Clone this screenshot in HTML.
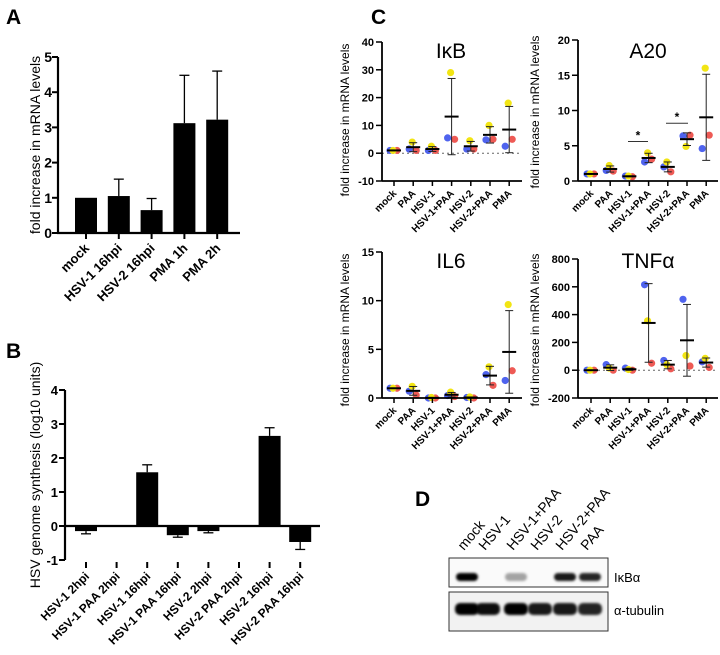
<!DOCTYPE html>
<html><head><meta charset="utf-8"><style>
body{margin:0;background:#fff}
svg{display:block;font-family:"Liberation Sans",Arial,sans-serif}
</style></head><body>
<svg id="fig" width="720" height="655" viewBox="0 0 720 655" xmlns="http://www.w3.org/2000/svg">
<defs><filter id="blur" x="-20%" y="-50%" width="140%" height="200%"><feGaussianBlur stdDeviation="1.2"/></filter></defs>
<text x="6" y="24" font-size="21" font-weight="bold">A</text>
<text x="6" y="358" font-size="21" font-weight="bold">B</text>
<text x="371" y="24" font-size="21" font-weight="bold">C</text>
<text x="415" y="506" font-size="21" font-weight="bold">D</text>
</svg>
<script>
const NS='http://www.w3.org/2000/svg';
const svg=document.getElementById('fig');
function mk(tag,attrs,parent,txt){const e=document.createElementNS(NS,tag);for(const k in attrs)e.setAttribute(k,attrs[k]);if(txt!==undefined)e.textContent=txt;(parent||svg).appendChild(e);return e;}

// ---------- Panel A data ----------
const aCats=['mock','HSV-1 16hpi','HSV-2 16hpi','PMA 1h','PMA 2h'];
const aVals=[1,1.05,0.65,3.12,3.22];
const aErr=[0,0.48,0.33,1.36,1.38];
const aTicks=[0,1,2,3,4,5];
// ---------- Panel B data ----------
const bCats=['HSV-1 2hpi','HSV-1 PAA 2hpi','HSV-1 16hpi','HSV-1 PAA 16hpi','HSV-2 2hpi','HSV-2 PAA 2hpi','HSV-2 16hpi','HSV-2 PAA 16hpi'];
const bVals=[-0.15,0,1.58,-0.27,-0.15,0,2.65,-0.47];
const bErr=[0.08,0,0.22,0.06,0.05,0,0.24,0.22];
const bTicks=[-1,0,1,2,3,4];
// ---------- Panel C data ----------
const cCats=['mock','PAA','HSV-1','HSV-1+PAA','HSV-2','HSV-2+PAA','PMA'];
const ikbYellow=[1,4,2.5,29,4.5,10,18];
const ikbBlue=[1,1.5,1,5.5,1.5,4.8,2.5];
const ikbRed=[1,1,1,5,1.5,5,5];
const ikbTicks=[-10,0,10,20,30,40];
const a20Yellow=[1,2.2,0.7,4,2.7,4.9,16];
const a20Blue=[1,1.5,0.7,2.7,2,6.4,4.6];
const a20Red=[1,1.4,0.6,3.1,1.3,6.5,6.5];
const a20Ticks=[0,5,10,15,20];
const il6Yellow=[1,1.2,0.05,0.6,0.1,3.2,9.6];
const il6Blue=[1,0.7,0,0.25,0.05,2.4,1.8];
const il6Red=[1,0.3,0,0.15,0,1.3,2.8];
const il6Ticks=[0,5,10,15];
const tnfYellow=[0,15,5,355,40,105,85];
const tnfBlue=[0,40,15,615,70,510,60];
const tnfRed=[0,0,0,50,10,30,20];
const tnfTicks=[-200,0,200,400,600,800];
// ---------- Panel D ----------
const dLanes=['mock','HSV-1','HSV-1+PAA','HSV-2','HSV-2+PAA','PAA'];
const ikbaBand=[1,0,0.35,0,0.9,0.85];
const tubBand=[1,0.95,1,0.9,0.9,0.85];

function yTitle(x,yc,txt,fs,name,bold){
  const t=mk('text',{x:x,y:yc,'font-size':fs,'text-anchor':'middle','font-weight':bold?'bold':'normal',transform:`rotate(-90 ${x} ${yc})`},svg,txt);
  
  
}
function catLabel(x,y,txt,fs,name){
  const t=mk('text',{x:x,y:y,'font-size':fs,'font-weight':'bold','text-anchor':'end',transform:`rotate(-45 ${x} ${y})`},svg,txt);
  
  
}

// ===== Panel A =====
(function(){
  const x0=58,x1=240,yTop=57,yBot=233,min=0,max=5;
  const ys=v=>yBot-(v-min)/(max-min)*(yBot-yTop);
  const cx0=86,step=32.8;
  aCats.forEach((c,i)=>{
    const x=cx0+i*step;
    const b=mk('rect',{x:x-11,y:ys(aVals[i]),width:22,height:ys(0)-ys(aVals[i]),fill:'#000'});
    
    
    if(aErr[i]>0){
      mk('line',{x1:x,x2:x,y1:ys(aVals[i]),y2:ys(aVals[i]+aErr[i]),stroke:'#000','stroke-width':1.3});
      mk('line',{x1:x-5,x2:x+5,y1:ys(aVals[i]+aErr[i]),y2:ys(aVals[i]+aErr[i]),stroke:'#000','stroke-width':1.3});
    }
    mk('line',{x1:x,x2:x,y1:yBot,y2:yBot+6,stroke:'#000','stroke-width':2});
    catLabel(x+4,yBot+16,c,13,'a-x-label');
  });
  mk('line',{x1:x0,x2:x0,y1:yTop,y2:yBot+1,stroke:'#000','stroke-width':2.2});
  mk('line',{x1:x0-1,x2:x1,y1:yBot,y2:yBot,stroke:'#000','stroke-width':2.2});
  aTicks.forEach(t=>{
    mk('line',{x1:x0-6,x2:x0,y1:ys(t),y2:ys(t),stroke:'#000','stroke-width':2});
    const l=mk('text',{x:x0-6,y:ys(t)+5,'font-size':14,'font-weight':'bold','text-anchor':'end'},svg,t);
    
    
  });
  yTitle(40,145,'fold increase in mRNA levels',14,'a-y-axis-title');
})();

// ===== Panel B =====
(function(){
  const x0=65,x1=320,yTop=390,yBot=560,min=-1,max=4;
  const ys=v=>yBot-(v-min)/(max-min)*(yBot-yTop);
  const cx0=86,step=30.6;
  bCats.forEach((c,i)=>{
    const x=cx0+i*step;
    if(bVals[i]!==0){
      const y1=Math.min(ys(bVals[i]),ys(0)),y2=Math.max(ys(bVals[i]),ys(0));
      const b=mk('rect',{x:x-11,y:y1,width:22,height:y2-y1,fill:'#000'});
      
      
      const s=bVals[i]>0?1:-1;
      const ye=ys(bVals[i]+s*bErr[i]);
      mk('line',{x1:x,x2:x,y1:ys(bVals[i]),y2:ye,stroke:'#000','stroke-width':1.3});
      mk('line',{x1:x-5,x2:x+5,y1:ye,y2:ye,stroke:'#000','stroke-width':1.3});
    }
    mk('line',{x1:x,x2:x,y1:yBot+2,y2:yBot+8,stroke:'#000','stroke-width':2});
    catLabel(x+4,yBot+17,c,12,'b-x-label');
  });
  mk('line',{x1:x0,x2:x0,y1:yTop,y2:yBot,stroke:'#000','stroke-width':2.2});
  mk('line',{x1:x0,x2:x1,y1:ys(0),y2:ys(0),stroke:'#000','stroke-width':2.2});
  bTicks.forEach(t=>{
    mk('line',{x1:x0-6,x2:x0,y1:ys(t),y2:ys(t),stroke:'#000','stroke-width':2});
    const l=mk('text',{x:x0-7,y:ys(t)+5,'font-size':13,'font-weight':'bold','text-anchor':'end'},svg,t);
    
    
  });
  yTitle(40,475,'HSV genome synthesis (log10 units)',14,'b-y-axis-title');
})();

// ===== Panel C =====
const COL={y:'#f2e513',b:'#4f63ee',r:'#ee5a55'};
function scatterPanel(o){
  const {x0,x1,yTop,yBot,min,max,ticks,title,tx,ty,Y,B,R,name,cx}=o;
  const ys=v=>yBot-(v-min)/(max-min)*(yBot-yTop);
  if(min<0) mk('line',{x1:x0,x2:x1,y1:ys(0),y2:ys(0),stroke:'#666','stroke-width':1,'stroke-dasharray':'2,3'});
  const step=19.2;
  cCats.forEach((c,i)=>{
    const x=cx+i*step;
    const vals=[Y[i],B[i],R[i]];
    const mean=(vals[0]+vals[1]+vals[2])/3;
    const sd=Math.sqrt(vals.reduce((s,v)=>s+(v-mean)*(v-mean),0)/2);
    const pts=[[B[i],'b',-4],[R[i],'r',3],[Y[i],'y',-1]];
    pts.forEach(([v,k,dx])=>{
      const p=mk('circle',{cx:x+dx,cy:ys(v),r:3.6,fill:COL[k]});
      
      
    });
    if(sd>0.0001){
      mk('line',{x1:x,x2:x,y1:ys(mean-sd),y2:ys(mean+sd),stroke:'#222','stroke-width':1});
      mk('line',{x1:x-4,x2:x+4,y1:ys(mean-sd),y2:ys(mean-sd),stroke:'#222','stroke-width':1});
      mk('line',{x1:x-4,x2:x+4,y1:ys(mean+sd),y2:ys(mean+sd),stroke:'#222','stroke-width':1});
    }
    const m=mk('line',{x1:x-7,x2:x+7,y1:ys(mean),y2:ys(mean),stroke:'#000','stroke-width':2});
    
    
    mk('line',{x1:x,x2:x,y1:yBot,y2:yBot+5,stroke:'#000','stroke-width':1.5});
    catLabel(x+3,yBot+13,c,10,name+'-x-label');
  });
  mk('line',{x1:x0,x2:x0,y1:yTop,y2:yBot,stroke:'#000','stroke-width':1.8});
  mk('line',{x1:x0,x2:x1,y1:yBot,y2:yBot,stroke:'#000','stroke-width':1.8});
  ticks.forEach(t=>{
    mk('line',{x1:x0-6,x2:x0,y1:ys(t),y2:ys(t),stroke:'#000','stroke-width':1.5});
    const l=mk('text',{x:x0-8,y:ys(t)+4,'font-size':11,'font-weight':'bold','text-anchor':'end'},svg,t);
    
    
  });
  const tt=mk('text',{x:tx,y:ty,'font-size':21,'text-anchor':'middle'},svg,title);
  
  
  return ys;
}
scatterPanel({x0:382,x1:522,yTop:42,yBot:181,min:-10,max:40,ticks:ikbTicks,title:'IκB',tx:451,ty:58,Y:ikbYellow,B:ikbBlue,R:ikbRed,name:'ikb',cx:394});
const a20ys=scatterPanel({x0:578,x1:718,yTop:40,yBot:181,min:0,max:20,ticks:a20Ticks,title:'A20',tx:648,ty:58,Y:a20Yellow,B:a20Blue,R:a20Red,name:'a20',cx:591});
scatterPanel({x0:382,x1:522,yTop:252,yBot:398,min:0,max:15,ticks:il6Ticks,title:'IL6',tx:451,ty:268,Y:il6Yellow,B:il6Blue,R:il6Red,name:'il6',cx:394});
scatterPanel({x0:578,x1:718,yTop:259,yBot:398,min:-200,max:800,ticks:tnfTicks,title:'TNFα',tx:648,ty:268,Y:tnfYellow,B:tnfBlue,R:tnfRed,name:'tnf',cx:591});
yTitle(349,120,'fold increase in mRNA levels',12,'ikb-y-axis-title');
yTitle(539,112,'fold increase in mRNA levels',12,'a20-y-axis-title');
yTitle(349,330,'fold increase in mRNA levels',12,'il6-y-axis-title');
yTitle(539,330,'fold increase in mRNA levels',12,'tnf-y-axis-title');
// significance
[[628,648,5.6],[666,688,8.2]].forEach(([a,b,v])=>{
  mk('line',{x1:a,x2:b,y1:a20ys(v),y2:a20ys(v),stroke:'#333','stroke-width':1});
  const s=mk('text',{x:(a+b)/2,y:a20ys(v)-2,'font-size':12,'font-weight':'bold','text-anchor':'middle'},svg,'*');
  
  
});

// ===== Panel D =====
(function(){
  const g=mk('g',{});
  
  
  mk('rect',{x:449,y:558,width:159,height:29,fill:'#fafafa',stroke:'#333','stroke-width':1},g);
  mk('rect',{x:449,y:592,width:159,height:39,fill:'#f2f2f2',stroke:'#333','stroke-width':1},g);
  const lx=[467,488,516,540,565,590];
  dLanes.forEach((l,i)=>{
    if(ikbaBand[i]>0) mk('rect',{x:lx[i]-11,y:573,width:22,height:8,rx:4,fill:'#000','fill-opacity':ikbaBand[i],filter:'url(#blur)'},g);
    mk('rect',{x:lx[i]-12,y:603,width:24,height:12,rx:5,fill:'#000','fill-opacity':tubBand[i],filter:'url(#blur)'},g);
    const t=mk('text',{x:lx[i]-3,y:551,'font-size':14,transform:`rotate(-50 ${lx[i]-3} 551)`},svg,l);
    
    
  });
  const a=mk('text',{x:614,y:582,'font-size':13},svg,'IκBα');
  
  
  const b=mk('text',{x:614,y:615,'font-size':13},svg,'α-tubulin');
  
  
})();
</script>
</body></html>
